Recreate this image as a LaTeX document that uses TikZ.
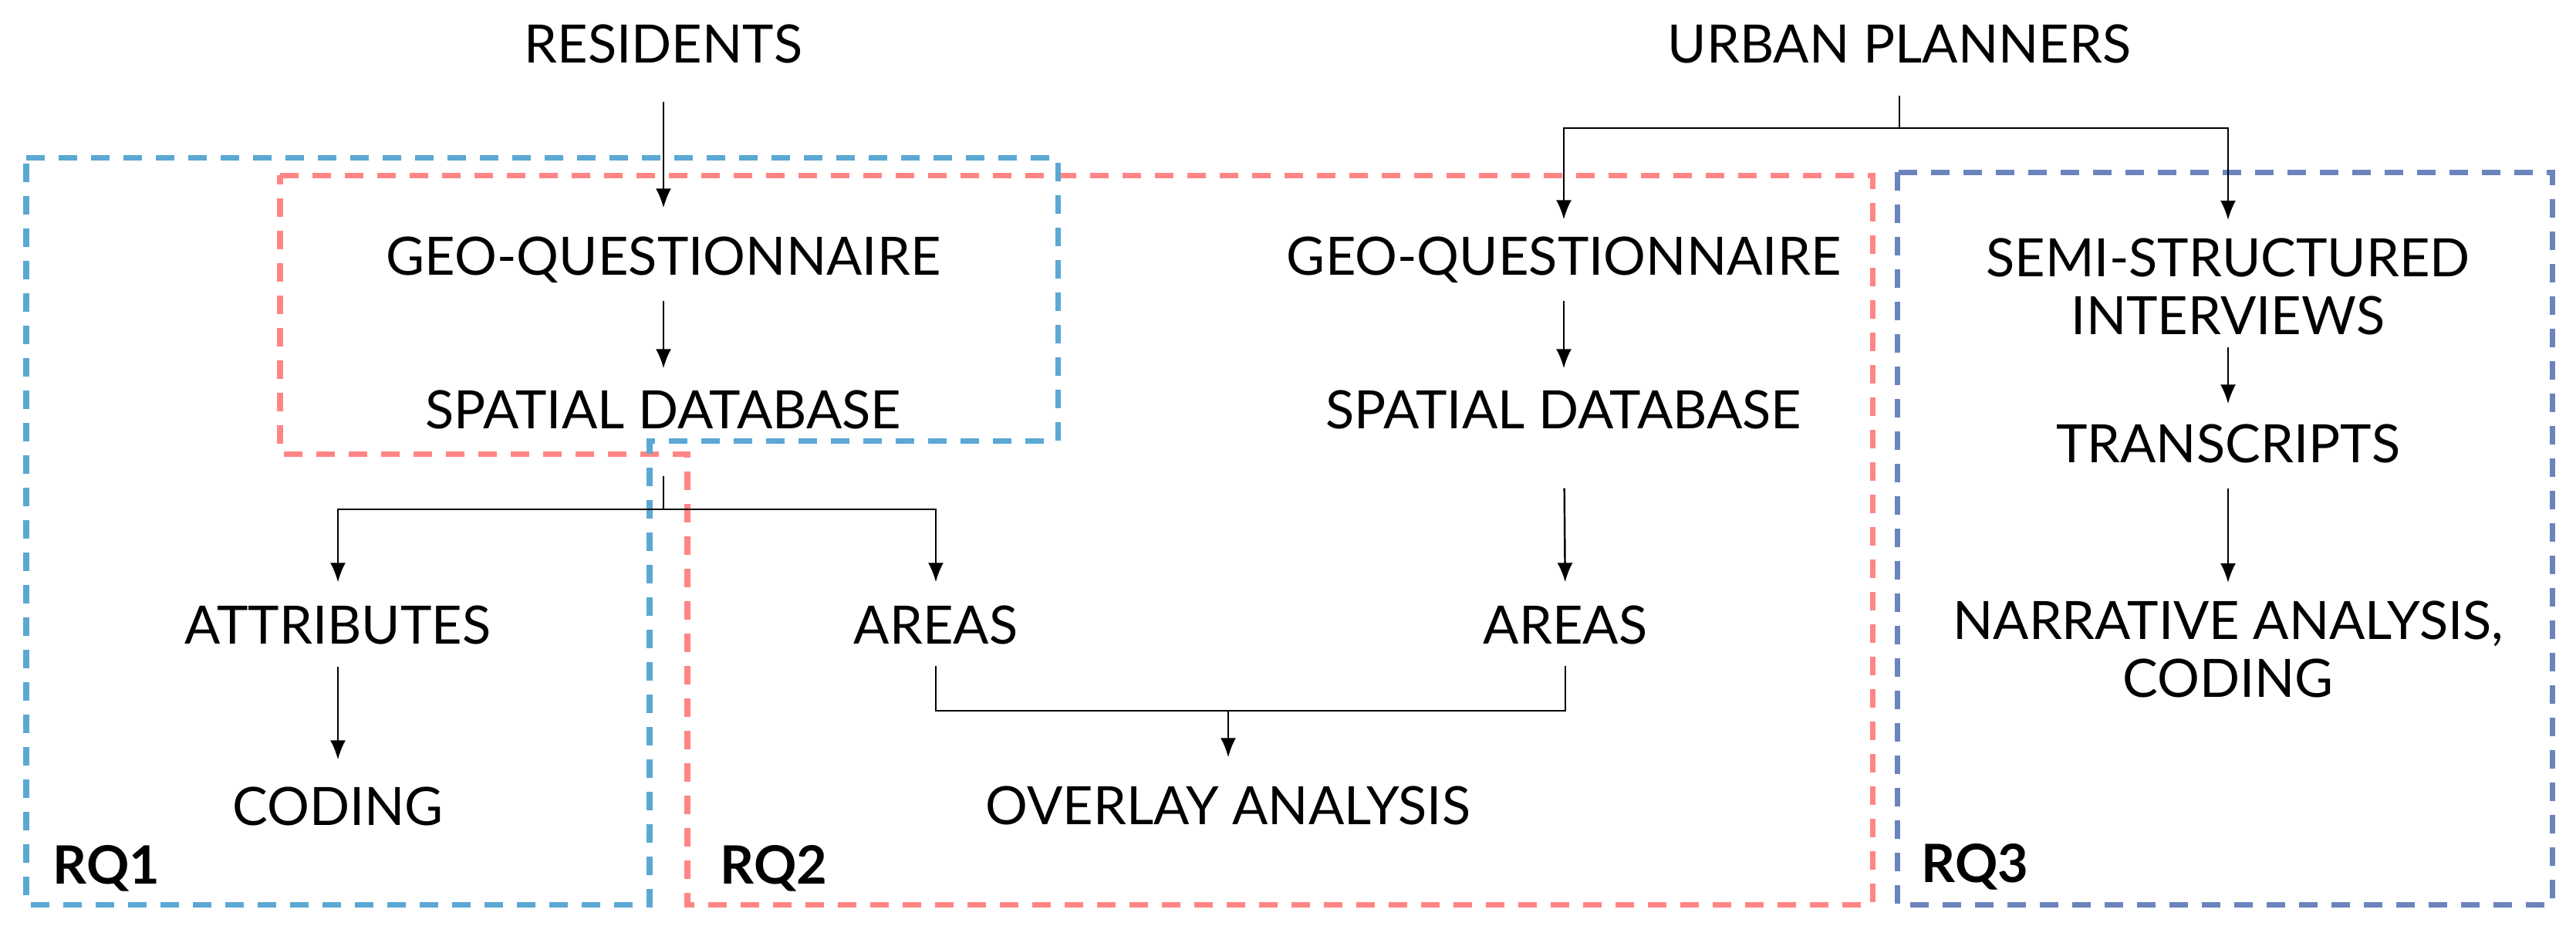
\documentclass[tikz,border=0pt]{standalone}
\usepackage{fontspec}
\setmainfont{Lato}
\usetikzlibrary{arrows.meta}
\definecolor{rqblue}{RGB}{91,168,212}
\definecolor{rqred}{RGB}{255,133,133}
\definecolor{rqviolet}{RGB}{107,132,189}
\begin{document}
\begin{tikzpicture}[
  lbl/.style={inner sep=0pt, anchor=base, text height=0.49cm, text depth=0pt, font=\fontsize{19.5}{21.3}\selectfont},
  mlbl/.style={inner sep=0pt, anchor=north, align=center, font=\fontsize{19.5}{21.3}\selectfont},
  rq/.style={inner sep=0pt, anchor=base west, font=\fontsize{19.5}{21.3}\selectfont\bfseries},
  arr/.style={draw=black, line width=0.7pt, -{Latex[length=0.25cm,width=0.2cm]}},
  con/.style={draw=black, line width=0.7pt},
  box/.style={line width=2pt, dash pattern=on 0.24cm off 0.18cm, line join=miter},
]
\useasboundingbox (0,0) rectangle (33.39,-12.08);

% research-question regions
\draw[box, rqred] (3.63,-2.27) -- (24.27,-2.27) -- (24.27,-11.72) -- (8.91,-11.72) -- (8.91,-5.88) -- (3.63,-5.88) -- cycle;
\draw[box, rqblue] (0.34,-2.04) -- (13.71,-2.04) -- (13.71,-5.71) -- (8.42,-5.71) -- (8.42,-11.72) -- (0.34,-11.72) -- cycle;
\draw[box, rqviolet] (24.59,-2.23) rectangle (33.08,-11.72);

% nodes
\node[lbl] (res) at (8.60,-0.81) {RESIDENTS};
\node[lbl] (urb) at (24.62,-0.81) {URBAN PLANNERS};
\node[lbl] (geoL) at (8.60,-3.56) {GEO-QUESTIONNAIRE};
\node[lbl] (sdL) at (8.60,-5.55) {SPATIAL DATABASE};
\node[lbl] (attr) at (4.38,-8.34) {ATTRIBUTES};
\node[lbl] (cod) at (4.38,-10.69) {CODING};
\node[lbl] (arL) at (12.13,-8.34) {AREAS};
\node[lbl] (arR) at (20.29,-8.34) {AREAS};
\node[lbl] (ovl) at (15.92,-10.68) {OVERLAY ANALYSIS};
\node[lbl] (geoR) at (20.27,-3.56) {GEO-QUESTIONNAIRE};
\node[lbl] (sdR) at (20.27,-5.55) {SPATIAL DATABASE};
\node[mlbl] (semi) at (28.88,-3.08) {SEMI-STRUCTURED\\INTERVIEWS};
\node[lbl] (trn) at (28.88,-5.99) {TRANSCRIPTS};
\node[mlbl] (nar) at (28.88,-7.78) {NARRATIVE ANALYSIS,\\CODING};

\node[rq] (rq1) at (0.68,-11.45) {RQ1};
\node[rq] (rq2) at (9.33,-11.45) {RQ2};
\node[rq] (rq3) at (24.90,-11.43) {RQ3};

% junctions
\coordinate (jL) at (8.60,-6.60);
\coordinate (jB) at (15.92,-9.21);
\coordinate (jU) at (24.62,-1.66);

% connectors
\draw[arr, shorten <=0.50cm, shorten >=0.37cm] (res.south) -- (geoL.north);
\draw[arr, shorten <=0.33cm, shorten >=0.28cm] (geoL.south) -- (sdL.north);
\draw[con] ([yshift=-0.61cm]sdL.south) -- (jL);
\draw[arr] (jL) -| ([yshift=0.30cm]attr.north);
\draw[arr] (jL) -| ([yshift=0.30cm]arL.north);
\draw[arr, shorten <=0.29cm, shorten >=0.35cm] (attr.south) -- (cod.north);
\draw[con] ([yshift=-0.28cm]arL.south) |- (jB);
\draw[con] ([yshift=-0.28cm]arR.south) |- (jB);
\draw[arr] (jB) -- ([yshift=0.37cm]ovl.north);

\draw[con] ([yshift=-0.42cm]urb.south) -- (jU);
\draw[arr] (jU) -| ([yshift=0.22cm]geoR.north);
\draw[arr] (jU) -| ([yshift=0.23cm]semi.north);
\draw[arr, shorten <=0.33cm, shorten >=0.28cm] (geoR.south) -- (sdR.north);
\draw[arr, shorten <=0.77cm, shorten >=0.30cm] (sdR.south) -- (arR.north);
\draw[arr, shorten <=0.16cm, shorten >=0.26cm] (semi.south) -- (trn.north);
\draw[arr, shorten <=0.33cm, shorten >=0.23cm] (trn.south) -- (nar.north);
\end{tikzpicture}
\end{document}
